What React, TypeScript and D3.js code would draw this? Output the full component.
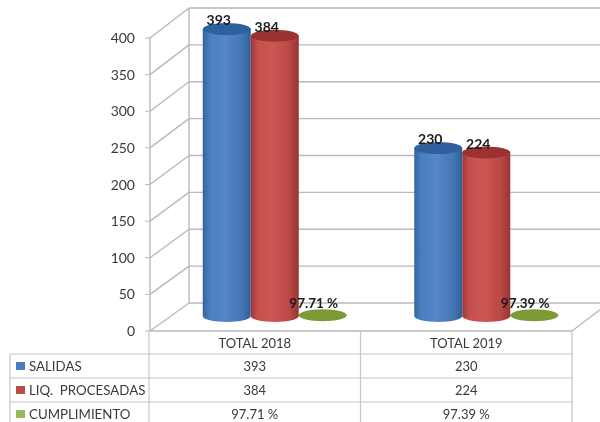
import React from "react";
import * as d3 from "d3";

const categories = ["TOTAL 2018", "TOTAL 2019"];
const seriesNames = ["SALIDAS", "LIQ.  PROCESADAS", "CUMPLIMIENTO"];
const salidas = [393, 230];
const liquidaciones = [384, 224];
const cumplimiento = [97.71, 97.39];
const cumplimientoLabels = ["97.71 %", "97.39 %"];
const chartLabels = ["97.71 %", "97.39 %"];
const yTicks = [0, 50, 100, 150, 200, 250, 300, 350, 400];

const W = 600, H = 422;
const font = "Lato, 'Open Sans', sans-serif";
const grid = "#b9b9b9";
const tableLine = "#c6c6c6";
const txt = "#3a3a3a";

const yFront = d3.scaleLinear().domain([0, 400]).range([331, 38]);
const yBack = d3.scaleLinear().domain([0, 400]).range([303, 8]);
const yBar = d3.scaleLinear().domain([0, 400]).range([316, 24]);
const xCat = d3.scaleBand<string>().domain(categories).range([149, 572]);
const xSer = d3.scaleBand<string>().domain(seriesNames).range([-72, 72]);

const colors = [
  { id: "b", stops: ["#33659f", "#4a7fc0", "#5587c6", "#4577b5", "#30609b"], top: "#2f609e", swatch: "#4a7ebb" },
  { id: "r", stops: ["#a03836", "#c4504d", "#cc5653", "#bb4845", "#983432"], top: "#9a3331", swatch: "#be4b48" },
  { id: "g", stops: ["#6c8c2c", "#86a83f", "#8fb048", "#7d9d37", "#688829"], top: "#7b9b35", swatch: "#98b954" },
];

function Cylinder({ cx, value, rx, c }: { cx: number; value: number; rx: number; c: (typeof colors)[number] }) {
  const yTop = yBar(value);
  const yBase = yBar(0);
  const ry = 6;
  const d = `M${cx - rx},${yTop}L${cx - rx},${yBase}A${rx},${ry} 0 0 0 ${cx + rx},${yBase}L${cx + rx},${yTop}Z`;
  return (
    <g>
      <path d={d} fill={`url(#grad-${c.id})`} />
      <ellipse cx={cx} cy={yTop} rx={rx} ry={ry} fill={c.top} />
    </g>
  );
}

export default function App() {
  const tableRows = [
    { name: seriesNames[0], values: salidas.map(String), c: colors[0] },
    { name: seriesNames[1], values: liquidaciones.map(String), c: colors[1] },
    { name: seriesNames[2], values: cumplimientoLabels, c: colors[2] },
  ];
  const rowY = [354, 378, 402, 426];
  return (
    <svg width={W} height={H} viewBox={`0 0 ${W} ${H}`} style={{ position: "absolute", left: 0, top: 0, background: "#fff" }} fontFamily={font}>
      <defs>
        {colors.map((c) => (
          <linearGradient key={c.id} id={`grad-${c.id}`} x1="0" x2="1" y1="0" y2="0">
            {c.stops.map((s, i) => (
              <stop key={i} offset={[0, 0.15, 0.45, 0.8, 1][i]} stopColor={s} />
            ))}
          </linearGradient>
        ))}
        <filter id="soft" x="-5%" y="-5%" width="110%" height="110%">
          <feGaussianBlur stdDeviation="0.6" />
        </filter>
      </defs>
      <g filter="url(#soft)">
        <g stroke={grid} strokeWidth={1.4} fill="none">
          {yTicks.map((t) => (
            <g key={t}>
              <line x1={150} x2={189} y1={yFront(t)} y2={yBack(t)} />
              {t > 0 && <line x1={189} x2={W} y1={yBack(t)} y2={yBack(t)} />}
              <line x1={145} x2={150} y1={yFront(t)} y2={yFront(t)} strokeWidth={1} />
            </g>
          ))}
          <line x1={150} x2={150} y1={yFront(400)} y2={yFront(0)} />
          <line x1={189} x2={189} y1={yBack(400)} y2={yBack(0)} />
          <line x1={189} x2={W} y1={yBack(0)} y2={yBack(0)} />
          <line x1={150} x2={572} y1={yFront(0)} y2={yFront(0)} />
          <line x1={572} x2={601} y1={yFront(0)} y2={yBack(0) + 6} />
        </g>

        {yTicks.map((t) => (
          <text key={t} x={135} y={yFront(t) + 5} textAnchor="end" fontSize={14} fill={txt}>{t}</text>
        ))}

        {categories.map((cat, i) => {
          const center = xCat(cat)! + xCat.bandwidth() / 2 + 20;
          const rx = xSer.bandwidth() / 2;
          const cxs = seriesNames.map((s) => center + xSer(s)! + rx);
          return (
            <g key={cat}>
              <ellipse cx={cxs[2]} cy={yBar(cumplimiento[i] / 100)} rx={rx} ry={6} fill={colors[2].top} />
              <Cylinder cx={cxs[1]} value={liquidaciones[i]} rx={rx} c={colors[1]} />
              <Cylinder cx={cxs[0]} value={salidas[i]} rx={rx} c={colors[0]} />
              <text x={cxs[0] - 8} y={yBar(salidas[i]) - 4} textAnchor="middle" fontSize={14} fontWeight={700} fill="#1a1a1a">{salidas[i]}</text>
              <text x={cxs[1] - 8} y={yBar(liquidaciones[i]) - 4 + (i === 0 ? 0 : 1)} textAnchor="middle" fontSize={14} fontWeight={700} fill="#1a1a1a">{liquidaciones[i]}</text>
              <text x={cxs[2] - 9} y={yBar(0) - 8} textAnchor="middle" fontSize={13.5} fontWeight={700} fill="#1a1a1a">{chartLabels[i]}</text>
            </g>
          );
        })}

        <g stroke={tableLine} strokeWidth={1.2}>
          <line x1={149} x2={149} y1={331} y2={H} />
          <line x1={xCat(categories[1])} x2={xCat(categories[1])} y1={331} y2={H} />
          <line x1={572} x2={572} y1={331} y2={H} />
          <line x1={10} x2={10} y1={rowY[0]} y2={H} />
          {rowY.slice(0, 3).map((y) => (
            <line key={y} x1={10} x2={572} y1={y} y2={y} />
          ))}
        </g>
        {categories.map((cat) => (
          <text key={cat} x={xCat(cat)! + xCat.bandwidth() / 2} y={348} textAnchor="middle" fontSize={13} fill={txt}>{cat}</text>
        ))}
        {tableRows.map((r, ri) => (
          <g key={r.name}>
            <rect x={16} y={rowY[ri] + 8} width={9} height={8} fill={r.c.swatch} />
            <text x={29} y={rowY[ri] + 17} fontSize={13.3} fill={txt} style={{ whiteSpace: "pre" }}>{r.name}</text>
            {r.values.map((v, i) => (
              <text key={i} x={xCat(categories[i])! + xCat.bandwidth() / 2} y={rowY[ri] + 17} textAnchor="middle" fontSize={13} fill={txt}>{v}</text>
            ))}
          </g>
        ))}
      </g>
    </svg>
  );
}
